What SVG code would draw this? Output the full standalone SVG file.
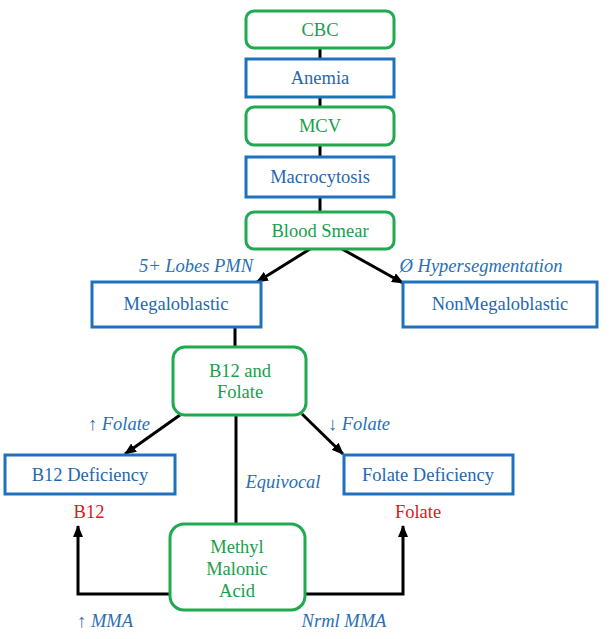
<svg xmlns="http://www.w3.org/2000/svg" width="609" height="639" viewBox="0 0 609 639">
<defs>
<marker id="ah" viewBox="0 0 12 10" refX="11" refY="5" markerWidth="12" markerHeight="10" markerUnits="userSpaceOnUse" orient="auto">
<path d="M0,0 L12,5 L0,10 Z" fill="#000"/>
</marker>
<style>
.g rect{fill:#fff;stroke:#1faa50;stroke-width:3}
.b rect{fill:#fff;stroke:#1e72bd;stroke-width:3}
.g text{fill:#1a9e4a}
.b text{fill:#1f68ad}
text{font-family:"Liberation Serif","Times New Roman",serif;font-size:18.5px;text-anchor:middle}
.lbl{fill:#2a6fb3;font-style:italic}
.red{fill:#e0141e}
#connectors line,#connectors polyline{stroke:#000;stroke-width:3;fill:none}
</style>
</defs>
<rect width="609" height="639" fill="#fff"/>
<g id="connectors">
<line x1="320" y1="48" x2="320" y2="59"/>
<line x1="320" y1="97" x2="320" y2="107"/>
<line x1="320" y1="145" x2="320" y2="157"/>
<line x1="320" y1="197" x2="320" y2="212"/>
<line x1="310" y1="249" x2="257" y2="282" marker-end="url(#ah)"/>
<line x1="342" y1="249" x2="403" y2="283" marker-end="url(#ah)"/>
<line x1="235" y1="327" x2="235" y2="347"/>
<line x1="180" y1="415" x2="125" y2="454" marker-end="url(#ah)"/>
<line x1="302" y1="414" x2="343" y2="454" marker-end="url(#ah)"/>
<line x1="236" y1="415" x2="236" y2="524"/>
<polyline points="170,594 78,594 78,526" marker-end="url(#ah)"/>
<polyline points="305,594 403,594 403,526" marker-end="url(#ah)"/>
</g>
<g id="cbc" class="g"><rect x="246" y="11" width="148" height="37" rx="8"/><text x="320" y="36">CBC</text></g>
<g id="anemia" class="b"><rect x="246" y="59" width="148" height="38"/><text x="320" y="84">Anemia</text></g>
<g id="mcv" class="g"><rect x="246" y="107" width="148" height="38" rx="8"/><text x="320" y="132">MCV</text></g>
<g id="macrocytosis" class="b"><rect x="246" y="157" width="148" height="40"/><text x="320" y="183">Macrocytosis</text></g>
<g id="bloodsmear" class="g"><rect x="246" y="212" width="148" height="37" rx="8"/><text x="320" y="237">Blood Smear</text></g>
<g id="megaloblastic" class="b"><rect x="92" y="282" width="169" height="45"/><text x="176" y="310">Megaloblastic</text></g>
<g id="nonmegaloblastic" class="b"><rect x="403" y="282" width="194" height="45"/><text x="500" y="310">NonMegaloblastic</text></g>
<g id="b12folate" class="g"><rect x="173" y="347" width="133" height="68" rx="12"/><text x="240" y="377">B12 and</text><text x="240" y="398">Folate</text></g>
<g id="b12def" class="b"><rect x="5" y="455" width="170" height="39"/><text x="90" y="481">B12 Deficiency</text></g>
<g id="folatedef" class="b"><rect x="344" y="455" width="169" height="39"/><text x="428" y="481">Folate Deficiency</text></g>
<g id="mma" class="g"><rect x="170" y="524" width="135" height="86" rx="14"/><text x="237" y="553">Methyl</text><text x="237" y="575">Malonic</text><text x="237" y="597">Acid</text></g>
<g id="labels">
<text class="lbl" x="196" y="272">5+ Lobes PMN</text>
<text class="lbl" x="481" y="272">Ø Hypersegmentation</text>
<text class="lbl" x="119" y="430">↑ Folate</text>
<text class="lbl" x="359" y="430">↓ Folate</text>
<text class="lbl" x="283" y="488">Equivocal</text>
<text class="red" x="89" y="518">B12</text>
<text class="red" x="418" y="518">Folate</text>
<text class="lbl" x="105" y="627">↑ MMA</text>
<text class="lbl" x="344" y="627">Nrml MMA</text>
</g>
</svg>
